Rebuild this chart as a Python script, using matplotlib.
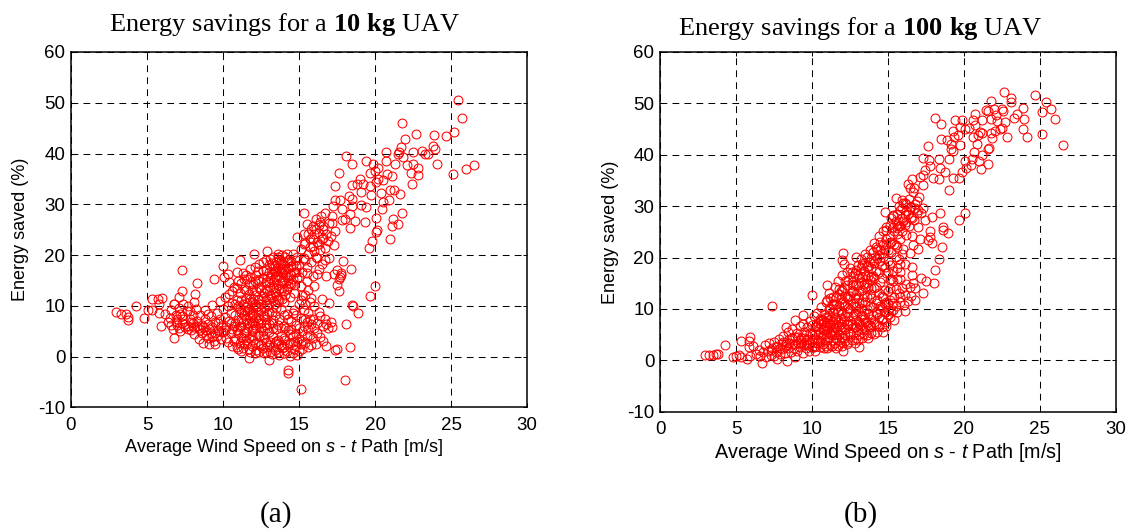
#!/usr/bin/env python3
"""Energy savings vs. average wind speed, 10 kg and 100 kg UAV"""

import matplotlib
matplotlib.use('Agg')
import matplotlib.pyplot as plt

plt.rcParams['font.family'] = 'Liberation Sans'
plt.rcParams['mathtext.fontset'] = 'custom'
plt.rcParams['mathtext.bf'] = 'Liberation Serif:bold'
plt.rcParams['mathtext.it'] = 'Liberation Sans:italic'
plt.rcParams['mathtext.rm'] = 'Liberation Sans'
plt.rcParams['axes.unicode_minus'] = False

# values (wind speed, energy saved)
points_a_sparse = [
    (2.97,8.75),(3.28,8.3),(3.6,8.35),(3.77,7.7),(3.75,7.2),(4.3,10),(4.78,7.5),(5.07,9.1),(5.3,9.1),(5.3,11.25),
    (5.7,11.25),(6,11.6),(5.77,10.3),(5.8,8.5),(5.9,6),(6.76,3.75),(7.33,17),(7.27,13),(7.1,11.8),(6.76,10.3),
    (8.3,14.4),(8.17,12.3),(8.1,10.8),(9.4,15.3),(10,17.8),(10.07,15.7),(10.3,16.2),(11.1,19.1),(12.07,20.2),(12.9,20.7),
    (10.95,16.7),(11.7,-0.3),(13,-0.6),(14.3,-2.7),(14.3,-3.2),(15.1,-6.4),
    (19.6,21.4),(19.8,22.8),(20.07,24.6),(21,23.1),(17.3,22),(17.9,18.9),(18.4,17.3),(17.75,16.5),(17.78,16),(17.7,15.6),
    (17.5,14.1),(17.66,13),(20,13.9),(19.67,11.9),(18.5,10.1),(18.56,9.9),(18.9,8.6),(18.1,6.4),(17.2,5.9),(18.35,1.9),
    (16.8,2),(17.4,1.25),(17.5,1.45),(18,-4.7),(17,10.5),(16.5,11.4),
    (25.44,50.6),(25.7,46.9),(25.2,44.2),(24.65,43.5),(23.9,43.6),(22.7,43.8),(21.8,46.1),(22,42.8),(21.7,41.3),(23.84,41.5),
    (23.93,40.9),(23.07,40.5),(23.3,39.9),(23.5,40),(22.5,40.3),(20.7,40.2),(21.5,40),(21.6,40.3),(18.1,39.5),(18.5,38),
    (19.4,38.5),(17.6,36.2),(24.1,37.9),(25.15,36),(26,36.9),(26.5,37.7),(17.35,33.6),(22.46,34),(22.8,35.7),(22.4,36.2),
    (22.8,37.2),(22.5,38),(22.1,37.7),(21.87,39.4),(21.3,38),(20.7,38.5),(19.9,37.9),(20.2,37.2),(20,36.6),(19.7,36.2),
    (20.77,35.9),(21.1,35.6),(20.2,34.9),(20.55,34.7),(19,34.9),(18.47,33.8),(18.8,33.9),(19.2,34),(19.67,33.6),(20.07,34.3),
    (21,32.9),(21.25,32.9),(20.4,32.3),(21.65,32.1),(19.1,32.5),(19.75,31.9),(18.3,31.6),(17.4,30.8),(17.7,30.8),(18.47,31),
    (20.5,30.4),(20.9,30.8),(19.1,29.8),(19.4,29.5),(17.26,29.6),(17.8,29),(20.45,29),(15.33,28.2),(18.47,29.6),(21.8,28.2),
    (18.36,28),(16.43,27.7),(16.7,28.3),(17.15,27.7),(20.05,27.3),(21.2,27.1),(18.7,26.8),(19.35,26.5),(18,27),(21.54,26.1),
    (21.1,25.7),(20.1,24.9),(18.36,25.3),(17.2,26.3),(16.3,26),(15.95,25.7),(16.6,25.7),
]
points_a_low = [
    (6.2,8.3),(6.4,6.9),(6.5,7.6),(6.6,9.2),(6.7,5.4),(6.8,10.3),(6.9,8.1),(7.0,6.3),(7.0,7.4),(7.1,9.6),
    (7.2,5.1),(7.2,8.4),(7.3,6.6),(7.4,10.4),(7.4,7.3),(7.5,5.8),(7.6,8.9),(7.7,6.1),(7.7,9.9),(7.8,7.4),
    (7.9,5.2),(8.0,8.2),(8.0,6.7),(8.1,4.4),(8.2,9.3),(8.3,7.1),(8.4,5.6),(8.4,3.4),(8.5,8.1),(8.6,6.3),
    (8.6,4.6),(8.7,2.7),(8.8,7.4),(8.8,9.1),(8.9,5.2),(9.0,3.6),(9.0,6.5),(9.1,2.4),(9.2,7.9),(9.2,4.7),
    (9.3,10.2),(9.3,5.8),(9.4,3.1),(9.5,2.5),(9.5,6.9),(9.6,8.6),(9.6,4.1),(9.7,5.3),(9.8,10.9),(9.8,7.4),
    (9.9,3.4),(9.9,6.1),(10,9.3),(10,4.8),(10.1,11.8),(10.1,7.7),(10.2,3.7),(10.2,5.9),(10.3,9.9),(10.3,2.9),
    (6.9,6.9),(7.1,5.7),(7.3,7.9),(7.5,6.4),(7.7,5.4),(7.9,6.9),(8.1,5.9),(8.3,6.1),(8.5,5.2),(8.7,5.8),
    (8.9,4.3),(9.1,5.4),(9.3,3.9),(9.5,4.6),(9.7,6.7),(9.9,4.9),(10.1,5.2),(6.6,6.3),(7.8,8.9),(9.0,8.3),
]
points_a_dense = [
    (10.4,7.1),(10.4,12.4),(10.5,4.6),(10.5,8.6),(10.6,10.6),(10.6,2.1),(10.7,6.1),(10.7,13.7),(10.8,3.4),(10.8,8.1),
    (10.9,11.2),(10.9,5.2),(11.0,14.8),(11.0,1.4),(11.0,7.2),(11.1,9.4),(11.1,12.6),(11.2,3.9),(11.2,6.1),(11.3,16.4),
    (11.3,10.3),(11.3,1.7),(11.4,8.1),(11.4,13.4),(11.5,4.8),(11.5,11.6),(11.6,6.7),(11.6,15.2),(11.6,2.6),(11.7,9.3),
    (11.7,12.4),(11.8,0.9),(11.8,7.6),(11.8,17.3),(11.9,5.1),(11.9,10.7),(12.0,14.3),(12.0,3.2),(12.0,8.4),(12.1,6.3),
    (12.1,12.1),(12.2,16.1),(12.2,1.3),(12.2,9.7),(12.3,4.4),(12.3,11.1),(12.4,7.3),(12.4,13.7),(12.4,18.2),(12.5,2.3),
    (12.5,5.7),(12.5,9.1),(12.6,15.4),(12.6,11.9),(12.7,3.6),(12.7,7.9),(12.7,0.6),(12.8,13.3),(12.8,6.3),(12.8,17.1),
    (12.9,10.2),(12.9,1.9),(13.0,4.9),(13.0,8.7),(13.0,14.6),(13.1,12.1),(13.1,19.2),(13.1,2.8),(13.2,6.6),(13.2,16.3),
    (13.2,0.5),(13.3,10.9),(13.3,13.6),(13.3,3.9),(13.4,8.1),(13.4,18.1),(13.4,1.3),(13.5,15.2),(13.5,5.4),(13.5,11.9),
    (13.6,2.4),(13.6,19.7),(13.6,14.1),(13.7,7.4),(13.7,0.4),(13.7,16.9),(13.8,4.1),(13.8,12.9),(13.8,9.4),(13.9,1.6),
    (13.9,18.4),(13.9,14.9),(14.0,6.1),(14.0,0.7),(14.0,10.8),(14.1,16.1),(14.1,3.2),(14.1,19.6),(14.2,13.4),(14.2,8.3),
    (14.2,1.1),(14.3,17.4),(14.3,5.2),(14.3,15.1),(14.4,0.1),(14.4,11.7),(14.4,2.7),(14.5,18.9),(14.5,7.1),(14.5,14.2),
    (14.6,4.1),(14.6,20.3),(14.6,0.6),(14.7,16.7),(14.7,9.2),(14.7,12.6),(14.8,2.1),(14.8,19.1),(14.8,6.2),(14.9,23.6),
    (14.9,15.4),(14.9,0.3),(15.0,10.3),(15.0,18.1),(15.0,3.4),(15.1,21.2),(15.1,7.6),(15.1,13.8),(15.2,1.4),(15.2,16.6),
    (15.2,5.1),(15.3,24.1),(15.3,19.4),(15.3,9.1),(15.4,2.6),(15.4,12.1),(15.4,22.3),(15.5,14.9),(15.5,6.9),(15.5,17.7),
    (15.5,26.1),(15.6,1.9),(15.6,20.3),(15.6,8.6),(15.7,23.2),(15.7,4.2),(15.7,10.8),(15.8,18.6),(15.8,25.2),(15.8,2.3),
    (15.9,21.7),(15.9,7.4),(15.9,15.9),(16.0,24.1),(16.0,5.6),(16.0,9.9),(16.1,19.7),(16.1,27.1),(16.1,2.4),(16.2,22.6),
    (16.2,16.2),(16.2,6.7),(16.3,24.4),(16.3,8.8),(16.4,20.9),(16.4,3.9),(16.4,26.6),(16.5,23.2),(16.5,18.3),(16.6,6.1),
    (16.6,25.1),(16.7,21.4),(16.7,7.4),(16.8,24.2),(16.8,15.8),(16.9,22.7),(16.9,5.6),(17.0,26.4),(17.0,19.4),(17.1,6.8),
    (17.1,23.8),(17.3,16.3),(17.4,24.8),(17.5,17.1),(17.6,15.3),(17.8,26.9),(14.0,1.8),(12.0,11.3),(11.5,9.7),(12.5,13.1),
    (13.0,11.4),(13.5,9.6),(14.0,16.9),(14.5,16.1),(12.3,8.8),(11.9,6.6),(12.6,4.3),(13.3,7.2),(11.2,8.7),(10.8,10.4),
    (13.8,18.9),(14.2,20.2),(13.4,16.6),(12.9,15.9),(12.4,14.8),(11.4,15.3),(13.6,0.9),(14.7,1.4),(15.0,1.1),(12.8,2.9),
    # thickest part of the cloud
    (10.6,5.4),(10.8,6.7),(11.0,4.6),(11.0,9.9),(11.1,5.9),(11.2,7.4),(11.2,11.1),(11.3,3.6),(11.3,6.8),(11.4,9.1),
    (11.4,4.6),(11.5,7.4),(11.5,13.1),(11.6,5.6),(11.6,8.9),(11.6,10.6),(11.7,3.7),(11.7,6.6),(11.7,14.3),(11.8,8.8),
    (11.8,11.4),(11.9,4.1),(11.9,8.1),(11.9,13.1),(12.0,5.4),(12.0,9.6),(12.0,7.1),(12.1,10.3),(12.1,2.6),(12.1,14.9),
    (12.2,5.6),(12.2,7.6),(12.2,12.9),(12.3,6.6),(12.3,9.9),(12.3,15.1),(12.4,4.1),(12.4,11.4),(12.5,6.6),(12.5,10.4),
    (12.6,8.1),(12.6,5.1),(12.6,16.9),(12.7,12.6),(12.7,9.6),(12.8,7.3),(12.8,11.1),(12.8,14.6),(12.9,5.7),(12.9,12.9),
    (12.9,8.3),(13.0,6.4),(13.0,16.6),(13.0,10.2),(13.1,13.7),(13.1,15.4),(13.2,11.6),(13.2,8.8),(13.2,18.4),(13.3,14.7),
    (13.3,17.4),(13.3,5.6),(13.4,12.7),(13.4,15.6),(13.4,10.3),(13.5,18.6),(13.5,13.6),(13.5,16.9),(13.6,11.3),(13.6,17.6),
    (13.6,15.9),(13.7,13.4),(13.7,19.1),(13.7,11.1),(13.8,15.7),(13.8,17.3),(13.9,13.6),(13.9,16.6),(13.9,11.4),(14.0,18.1),
    (14.0,14.6),(14.0,12.9),(14.1,17.3),(14.1,12.1),(14.2,15.7),(14.2,18.6),(14.3,13.9),(14.3,19.1),(14.4,16.3),(14.4,14.4),
    (14.5,17.8),(14.6,15.3),(14.6,18.1),(14.7,14.1),(14.8,16.6),(14.8,17.8),(14.9,19.6),(14.0,3.7),(14.2,2.4),(14.4,4.4),
    (13.6,3.2),(13.8,2.2),(13.4,2.7),(14.6,2.8),(14.8,4.4),(15.0,5.6),(15.2,3.1),(15.4,7.4),(15.6,5.4),(15.8,6.4),
    (15.3,22.1),(15.6,24.1),(15.9,23.1),(16.1,25.1),(15.7,21.6),(16.3,22.1),(15.4,19.1),(16.0,20.7),(16.6,23.4),(16.2,19.4),
    # second pass over the thin patches
    (10.5,6.7),(10.7,3.1),(10.9,1.9),(11.1,2.7),(11.2,1.1),(11.4,2.4),(11.5,3.2),(11.7,1.4),(11.9,2.1),(12.1,0.7),
    (12.3,2.4),(12.4,0.9),(12.6,1.7),(12.8,0.8),(13.0,2.3),(13.1,0.9),(13.3,1.9),(13.5,3.1),(13.6,6.3),(13.8,5.6),
    (14.0,8.1),(14.1,5.6),(14.3,7.4),(14.5,5.4),(14.6,8.6),(14.8,8.1),(14.9,3.1),(15.1,2.4),(15.3,6.1),(15.5,4.1),
    (15.7,7.4),(15.9,3.6),(16.2,4.6),(16.4,7.9),(16.6,3.1),(16.8,6.4),(10.4,14.6),(10.6,12.9),(10.9,13.6),(11.2,14.4),
    (11.5,16.1),(11.8,15.7),(12.1,17.6),(12.3,16.9),(12.6,18.6),(12.8,19.1),(13.0,18.1),(13.3,19.7),(13.6,20.3),(13.9,20.1),
    (15.0,15.6),(15.2,12.1),(15.4,10.4),(15.6,13.1),(15.8,11.6),(16.0,13.9),(15.1,11.1),(15.5,16.4),(16.3,17.3),(16.7,19.1),
]

points_b_sparse = [
    (2.97,1),(3.24,1),(3.48,1),(3.68,1.2),(3.8,1.2),(4.3,3),(4.78,.65),(5,.85),(5.2,1),(5.3,.7),
    (5.3,3.8),(5.95,4.6),(5.84,3.8),(5.84,2.65),(6.1,2.8),(5.7,.3),(5.95,.85),(6.7,-.45),(7.35,10.6),(8.37,-.05),
    (8.87,.7),(7.7,.3),(10,12.7),(9.43,8.9),(8.85,7.8),(8.26,6.5),(12.05,20.8),(12,19.6),(12.1,18.7),(12.07,1.8),
    (12.9,20.1),(12.3,17.2),(11,14.6),(10.13,2.65),
    (22.65,52.2),(23.1,51),(23.1,50.2),(21.77,50.5),(24.67,51.6),(25.4,50.2),(25.15,48.3),(25.75,48.9),(26,47),(23.86,49.1),
    (23.5,48),(23.3,47.2),(23.92,46.9),(23.9,45),(24.12,43.4),(25.15,44),(26.53,41.9),(22.8,43.4),(22.5,48.9),(22.54,48.5),
    (22,49),(21.45,48.8),(21.6,48.5),(20.72,48),(18.1,47.1),(18.5,46),(19.43,46.7),(19.9,46.8),(20.57,46.8),(21.2,46.8),
    (22.1,47.7),(21.8,47),(22.15,46.6),(22.7,46.3),(22.47,45.3),(22.03,44.7),(21.8,44.2),(21.86,43.3),(22.4,45),(21.05,44.4),
    (21.2,44.2),(20.94,43.8),(20.72,45.8),(20.35,45.3),(20.06,45),(19.73,45.5),(19.25,44.7),(19.62,43.8),(19.34,43.5),(20.6,43.5),
    (18.5,43),(18.86,42.9),(19.12,42.1),(19.12,41.2),(19.3,40.7),(19.73,41.9),(20.83,42.1),(17.63,41.7),(21.62,41.4),(21.55,41.2),
    (20.68,40.6),(21.16,40),(17.32,39.3),(17.7,39),(18.33,39.1),(19,39.1),(20.5,39.1),(20.06,38.7),(21,38.7),(21.55,38.2),
    (20.44,38),(21.1,37.2),(20.13,37.4),(19.84,36.7),(17.76,37.8),(17.43,37),(18.42,37.4),(18.75,36.7),(17.1,35.7),(17.32,36),
    (17.98,35.5),(18.37,35.2),(19.3,35.4),(19.67,35.4),(17.32,34.1),(16.55,35.3),(16.33,34.3),(16.44,33.5),(16.66,32.8),(19,33.1),
    (17.06,31.7),(15.5,31.5),(15.9,31.2),(16.2,30.5),(16.77,30.5),(17.32,29.6),(14.8,28.9),(15.35,28.3),(15.8,29.2),(16.44,29.9),
    (16.9,28.6),(17.2,28.7),(18.44,28.7),(17.9,27.9),(20.04,28.7),(19.7,27.4),(17.43,27.4),(17,26),(18.6,25.9),(17.76,25.2),
    (16.1,26.3),(14.9,26),(15.57,25.7),(16.55,27.6),
    (18.92,24.7),(18.6,25.3),(17.76,24),(17.87,22.9),(17.65,23.4),(18.53,22),(17.1,23.7),(17,21.7),(16.66,22.4),(18.37,19.8),
    (18.1,17.5),(18,15),(17.47,15.4),(17.2,16),(17.32,13.1),(16.77,11.8),(16.05,10.7),(16.55,18.2),(16.55,16.6),(16.66,15),
    (16.44,14.3),(16.1,12.7),(15.8,15.9),(16.1,18.8),(15.8,18.8),(15.57,17.9),(15.1,15.6),(15.2,15.9),(15.1,11.7),(15,9.8),
    (14.7,5.6),(14.9,7.5),(15.35,9.8),(15.8,12.4),(16.44,20.8),(15.9,20.6),(15.57,22),(14.9,22.7),
]
points_b_dense = [
    (6.3,1.2),(6.5,2.1),(6.6,0.8),(6.8,1.6),(6.9,2.9),(7.0,0.6),(7.1,1.9),(7.2,3.3),(7.3,1.1),(7.4,2.4),
    (7.5,0.9),(7.5,3.6),(7.6,1.7),(7.7,2.8),(7.8,4.1),(7.9,1.2),(8.0,3.1),(8.0,2.2),(8.1,4.8),(8.2,1.4),
    (8.3,3.5),(8.4,2.3),(8.4,5.6),(8.5,4.2),(8.6,1.7),(8.7,3.1),(8.7,6.1),(8.8,2.4),(8.9,4.6),(9.0,1.9),
    (9.0,5.4),(9.1,3.4),(9.2,6.6),(9.2,2.6),(9.3,4.4),(9.4,1.5),(9.4,7.1),(9.5,3.1),(9.5,5.6),(9.6,2.3),
    (9.7,6.4),(9.7,4.1),(9.8,1.8),(9.9,3.4),(9.9,7.6),(10.0,5.1),(10.0,2.6),(10.1,8.6),(10.1,4.1),(10.2,6.4),
    (10.2,1.9),(10.3,3.3),(10.3,9.3),(10.4,7.3),(10.4,5.2),(10.5,2.6),(10.5,8.1),(10.6,4.3),(10.6,10.4),(10.7,6.1),
    (10.7,3.1),(10.8,9.1),(10.8,7.4),(10.9,2.7),(10.9,5.1),(11.0,11.7),(11.0,8.3),(11.0,3.9),(11.1,6.4),(11.1,13.1),
    (11.2,10.1),(11.2,2.9),(11.3,7.7),(11.3,4.9),(11.4,12.3),(11.4,9.2),(11.5,3.4),(11.5,14.3),(11.5,6.3),(11.6,10.9),
    (11.6,8.1),(11.7,2.8),(11.7,15.4),(11.8,5.1),(11.8,12.9),(11.9,9.6),(11.9,3.6),(11.9,7.1),(12.0,16.7),(12.0,11.4),
    (12.1,4.4),(12.1,14.1),(12.2,8.6),(12.2,6.1),(12.3,12.4),(12.3,3.1),(12.4,15.6),(12.4,10.1),(12.5,5.1),(12.5,17.9),
    (12.5,7.6),(12.6,13.3),(12.6,3.9),(12.7,11.1),(12.7,16.4),(12.8,6.4),(12.8,9.1),(12.9,14.6),(12.9,4.3),(13.0,18.6),
    (13.0,12.1),(13.0,7.6),(13.1,5.2),(13.1,16.1),(13.2,10.1),(13.2,19.7),(13.3,13.6),(13.3,4.4),(13.4,8.1),(13.4,17.3),
    (13.5,6.1),(13.5,11.4),(13.5,20.6),(13.6,15.1),(13.6,4.9),(13.7,9.1),(13.7,18.4),(13.8,12.9),(13.8,6.9),(13.8,21.4),
    (13.9,16.2),(13.9,5.4),(14.0,10.4),(14.0,19.4),(14.1,14.1),(14.1,7.4),(14.2,22.1),(14.2,17.4),(14.3,5.6),(14.3,11.7),
    (14.4,20.4),(14.4,8.4),(14.5,15.3),(14.5,23.1),(14.6,6.4),(14.6,18.4),(14.7,12.4),(14.7,25.1),(14.8,9.4),(14.8,21.4),
    (14.9,16.9),(14.9,6.6),(15.0,19.3),(15.0,13.4),(15.1,24.1),(15.1,8.4),(15.2,21.1),(15.2,27.6),(15.3,11.2),(15.3,17.4),
    (15.4,25.2),(15.4,7.9),(15.5,22.4),(15.5,13.9),(15.6,28.4),(15.6,9.4),(15.7,19.7),(15.7,26.1),(15.8,11.4),(15.8,23.6),
    (15.9,29.6),(15.9,14.1),(16.0,21.7),(16.0,27.1),(16.1,9.6),(16.1,30.6),(16.2,24.4),(16.2,14.9),(16.3,28.4),(16.3,11.6),
    (16.4,31.4),(16.4,26.2),(16.5,12.6),(16.5,29.9),(16.6,24.1),(16.7,33.6),(16.7,27.4),(16.8,14.1),(16.9,31.1),(17.0,29.3),
    (13.1,2.6),(12.4,6.9),(11.4,5.6),(10.9,11.4),(11.9,13.4),(12.7,14.7),(13.4,14.9),(13.9,12.1),(14.6,10.4),(14.2,9.4),
    (12.2,10.6),(12.9,10.4),(11.6,4.4),(11.1,8.9),(10.6,7.1),(13.6,7.3),(14.4,13.1),(15.0,17.1),(15.5,20.1),(12.0,6.4),
    # thickest part of the band
    (7.3,2.1),(7.6,2.6),(7.9,2.4),(8.1,3.6),(8.3,2.7),(8.5,3.3),(8.7,4.4),(8.9,3.1),(9.1,4.6),(9.3,3.4),
    (9.5,4.3),(9.7,3.1),(9.9,5.4),(10.0,3.9),(10.2,5.1),(10.3,6.6),(10.4,3.9),(10.5,5.6),(10.6,7.9),(10.7,4.9),
    (10.8,6.3),(10.9,8.4),(11.0,5.9),(11.0,7.2),(11.1,4.6),(11.1,9.9),(11.2,6.9),(11.2,8.1),(11.3,5.7),(11.3,10.9),
    (11.4,7.1),(11.4,3.9),(11.5,8.4),(11.5,9.9),(11.6,6.4),(11.6,12.4),(11.7,7.4),(11.7,9.4),(11.8,3.9),(11.8,10.6),
    (11.9,8.3),(11.9,5.9),(11.9,11.9),(12.0,9.1),(12.0,13.6),(12.0,4.6),(12.1,7.6),(12.1,10.9),(12.2,12.6),(12.2,3.7),
    (12.3,9.4),(12.3,7.1),(12.3,14.7),(12.4,8.6),(12.4,11.9),(12.4,5.6),(12.5,12.6),(12.5,9.9),(12.6,7.1),(12.6,15.3),
    (12.7,8.6),(12.7,5.4),(12.7,13.4),(12.8,12.1),(12.8,16.9),(12.8,10.6),(12.9,7.9),(12.9,12.9),(12.9,17.6),(13.0,9.6),
    (13.0,14.6),(13.0,5.9),(13.1,11.1),(13.1,13.4),(13.1,7.1),(13.2,15.3),(13.2,8.6),(13.2,17.9),(13.3,11.4),(13.3,6.1),
    (13.3,16.3),(13.4,12.6),(13.4,18.9),(13.4,9.6),(13.5,14.3),(13.5,16.4),(13.6,18.1),(13.6,12.3),(13.7,14.3),(13.7,16.4),
    (13.7,6.9),(13.8,19.1),(13.8,15.6),(13.9,17.9),(13.9,14.1),(13.9,8.1),(14.0,16.4),(14.0,21.1),(14.1,18.9),(14.1,16.1),
    (14.2,14.3),(14.2,7.1),(14.3,19.9),(14.3,21.7),(14.4,17.1),(14.4,9.9),(14.5,19.3),(14.5,21.4),(14.6,16.1),(14.6,8.1),
    (14.7,20.1),(14.7,22.4),(14.8,18.1),(14.8,10.9),(14.9,23.6),(15.0,21.4),(15.0,10.9),(15.1,18.6),(15.1,26.4),(15.2,23.1),
    (15.3,25.9),(15.4,22.6),(15.5,27.1),(15.6,24.6),(15.7,30.1),(15.8,26.1),(15.9,27.6),(16.0,30.6),(16.1,28.3),(16.2,26.9),
    # second pass over the thin patches
    (9.2,3.9),(9.6,5.1),(9.8,2.9),(10.0,6.9),(10.2,2.7),(10.4,6.1),(10.5,3.6),(10.7,7.9),(10.8,2.4),(10.9,6.9),
    (11.0,2.4),(11.2,5.1),(11.3,2.7),(11.5,5.1),(11.6,2.4),(11.8,6.6),(12.0,2.7),(12.2,4.9),(12.4,3.6),(12.6,6.3),
    (12.8,3.3),(12.9,6.4),(13.0,3.9),(13.2,6.9),(13.3,8.9),(13.4,5.1),(13.5,7.4),(13.6,9.9),(13.7,4.3),(13.8,10.6),
    (13.9,6.4),(14.0,8.9),(14.1,5.1),(14.2,11.1),(14.3,9.1),(14.4,6.6),(14.5,10.6),(14.6,12.6),(14.7,7.9),(14.8,13.6),
    (14.9,11.3),(15.0,8.9),(15.1,14.1),(15.2,9.6),(15.3,15.4),(15.4,12.4),(15.5,10.6),(15.6,15.9),(15.7,13.1),(15.8,17.1),
    (14.4,24.1),(14.6,20.9),(14.9,25.4),(15.1,22.9),(15.3,28.1),(15.6,26.4),(15.9,25.1),(16.2,29.1),(16.5,27.9),(16.8,29.6),
    (12.2,15.4),(12.6,17.1),(13.0,16.6),(13.3,18.6),(13.6,20.1),(13.9,19.9),(14.1,22.9),(11.8,13.9),(11.4,10.9),(11.2,12.1),
]

points_a = points_a_sparse + points_a_low + points_a_dense
points_b = points_b_sparse + points_b_dense
wind_a = [p[0] for p in points_a]
saved_a = [p[1] for p in points_a]
wind_b = [p[0] for p in points_b]
saved_b = [p[1] for p in points_b]

xticks = [0, 5, 10, 15, 20, 25, 30]
yticks = [-10, 0, 10, 20, 30, 40, 50, 60]

W, H = 1130.0, 531.0
fig = plt.figure(figsize=(W / 100, H / 100), dpi=100)


def make_panel(left, right, top, bottom, wind, saved, xlabel_size, xlabel_center, ylabel_x):
    ax = fig.add_axes([left / W, 1 - bottom / H, (right - left) / W, (bottom - top) / H])
    ax.plot(wind, saved, 'o', mfc='none', mec='#ff0000', mew=0.75, ms=6.4, clip_on=True)
    ax.set_xlim(0, 30)
    ax.set_ylim(-10, 60)
    ax.set_xticks(xticks)
    ax.set_yticks(yticks)
    ax.set_axisbelow(True)
    ax.grid(True, color='k', linestyle=(0, (6.5, 5)), linewidth=0.75)
    ax.tick_params(direction='in', length=3, width=0.7, top=True, right=True, labelsize=13.5, pad=4)
    ax.tick_params(axis='x', pad=7)
    for s in ax.spines.values():
        s.set_linewidth(1.1)
    ax.set_xlabel(r'Average Wind Speed on $\mathit{s}$ - $\mathit{t}$ Path [m/s]', fontsize=xlabel_size)
    ax.xaxis.set_label_coords((xlabel_center - left) / (right - left), -29.5 / (bottom - top))
    ax.set_ylabel('Energy saved (%)', fontsize=13)
    ax.yaxis.set_label_coords((ylabel_x - left) / (right - left), 0.5)
    return ax


make_panel(71, 527, 52, 407.3, wind_a, saved_a, 13.1, 284, 29)
make_panel(660, 1116, 52, 411.7, wind_b, saved_b, 14.2, 887.5, 619)

# titles and captions, serif like the page text
fig.text(284.5 / W, 1 - 25 / H, r'Energy savings for a $\mathbf{10\ kg}$ UAV', family='Liberation Serif',
         fontsize=19, ha='center', va='center')
fig.text(860 / W, 1 - 29 / H, r'Energy savings for a $\mathbf{100\ kg}$ UAV', family='Liberation Serif',
         fontsize=19, ha='center', va='center')
fig.text(276 / W, 1 - 515 / H, '(a)', family='Liberation Serif', fontsize=21, ha='center', va='center')
fig.text(861 / W, 1 - 515 / H, '(b)', family='Liberation Serif', fontsize=21, ha='center', va='center')

plt.savefig('out.png', dpi=100)
